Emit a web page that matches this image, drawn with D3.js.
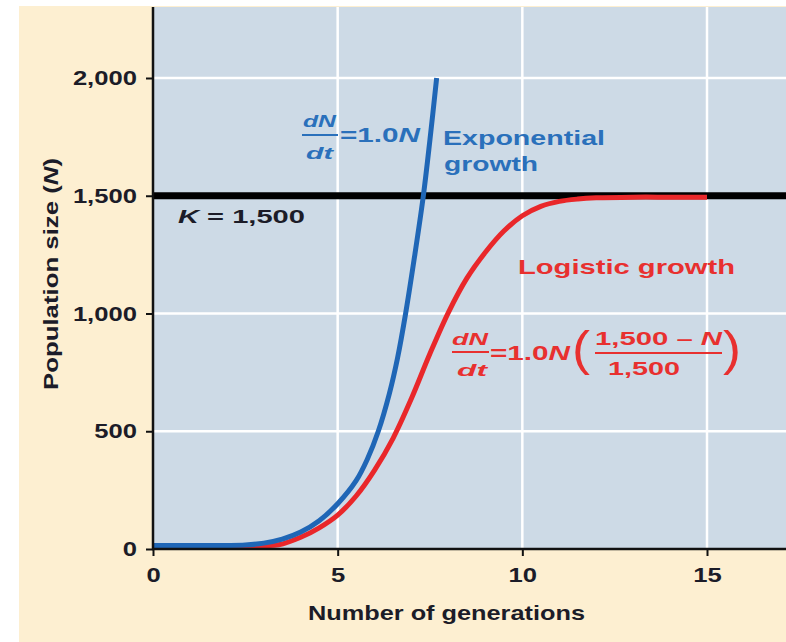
<!DOCTYPE html>
<html><head><meta charset="utf-8">
<script src="https://cdn.jsdelivr.net/npm/d3@7"></script>
<style>
body{margin:0;background:#ffffff}
svg{display:block}
text{font-family:"Liberation Sans",Arial,Helvetica,sans-serif;font-weight:bold}
</style>
</head><body>
<svg id="chart" width="786" height="642"></svg>
<script>
// ---- data ----
const xTicks = [0, 5, 10, 15];
const yTicks = [0, 500, 1000, 1500, 2000];
const yTickLabels = ["0", "500", "1,000", "1,500", "2,000"];
const carryingCapacity = 1500;
const expGen = [0, 1, 2, 2.5, 3, 3.5, 4, 4.5, 5, 5.5, 5.8, 6.1, 6.4, 6.62, 6.84, 7.08, 7.32, 7.5, 7.68];
const expN   = [15, 15, 15, 17, 25, 42, 72, 120, 192, 290, 380, 500, 660, 810, 1000, 1240, 1500, 1740, 2000];
const logGen = [0, 1, 2, 3, 3.4, 4, 4.5, 5, 5.5, 6, 6.5, 7, 7.5, 8, 8.5, 9, 9.5, 10, 10.5, 11, 11.5, 12, 13, 14, 15];
const logN   = [15, 15, 15, 15, 18, 50, 90, 144, 225, 335, 470, 640, 830, 1005, 1150, 1260, 1350, 1415, 1455, 1476, 1486, 1491, 1494, 1494, 1494];

// ---- layout ----
const svg = d3.select("#chart");
const W = 786, H = 642;
const plot = {left: 153, right: 786, top: 7, bottom: 549};
const BLUE = "#1f66b6", BLUE_T = "#2a70bb", RED = "#e9272a", RED_T = "#e8302f", DARK = "#1c1c28";

const x = d3.scaleLinear().domain([0, 15]).range([153, 707]);
const y = d3.scaleLinear().domain([0, 2000]).range([549, 78]);

// backgrounds
svg.append("rect").attr("x", 19).attr("y", 6).attr("width", W - 19).attr("height", H - 6).attr("fill", "#fdefd1");
svg.append("rect").attr("x", plot.left).attr("y", plot.top)
  .attr("width", plot.right - plot.left).attr("height", plot.bottom - plot.top).attr("fill", "#cddae6");

// grid
const grid = svg.append("g").attr("stroke", "#ffffff").attr("stroke-width", 2.5);
grid.selectAll(".gx").data(xTicks.filter(d => d > 0)).join("line")
  .attr("x1", d => x(d)).attr("x2", d => x(d)).attr("y1", plot.top).attr("y2", plot.bottom);
grid.selectAll(".gy").data(yTicks.filter(d => d > 0)).join("line")
  .attr("x1", plot.left).attr("x2", plot.right).attr("y1", d => y(d)).attr("y2", d => y(d));

// carrying capacity line
svg.append("line").attr("x1", plot.left).attr("x2", plot.right)
  .attr("y1", y(carryingCapacity)).attr("y2", y(carryingCapacity))
  .attr("stroke", "#000").attr("stroke-width", 7);

// curves
const line = d3.line().curve(d3.curveCatmullRom.alpha(0.5));
svg.append("path").attr("d", line(logGen.map((g, i) => [x(g), y(logN[i])])))
  .attr("fill", "none").attr("stroke", RED).attr("stroke-width", 5).attr("stroke-linecap", "butt");
svg.append("path").attr("d", line(expGen.map((g, i) => [x(g), y(expN[i])])))
  .attr("fill", "none").attr("stroke", BLUE).attr("stroke-width", 5).attr("stroke-linecap", "butt");

// axes
const yAxis = svg.append("g").attr("transform", `translate(${plot.left},0)`)
  .call(d3.axisLeft(y).tickValues(yTicks).tickFormat((d, i) => yTickLabels[i]).tickSize(7).tickPadding(9).tickSizeOuter(0));
const xAxis = svg.append("g").attr("transform", `translate(0,${plot.bottom})`)
  .call(d3.axisBottom(x).tickValues(xTicks).tickFormat(d3.format("d")).tickSize(7).tickPadding(11).tickSizeOuter(0));
[yAxis, xAxis].forEach(a => {
  a.select(".domain").remove();
  a.selectAll(".tick line").attr("stroke", "#111").attr("stroke-width", 2);
  a.selectAll(".tick text").attr("fill", DARK).style("font-size", "21px")
    .style("font-family", '"Liberation Sans",Arial,sans-serif').style("font-weight", "bold");
});
function stretch(sel, k) {
  sel.each(function () {
    const w = this.getComputedTextLength();
    this.setAttribute("textLength", w * k);
    this.setAttribute("lengthAdjust", "spacingAndGlyphs");
  });
}
stretch(yAxis.selectAll(".tick text"), 1.22);
stretch(xAxis.selectAll(".tick text"), 1.22);

svg.append("line").attr("x1", plot.left).attr("x2", plot.left).attr("y1", plot.top).attr("y2", plot.bottom + 1)
  .attr("stroke", "#111").attr("stroke-width", 2.5);
svg.append("line").attr("x1", plot.left - 1).attr("x2", plot.right).attr("y1", plot.bottom).attr("y2", plot.bottom)
  .attr("stroke", "#111").attr("stroke-width", 2.5);

// text helper
function txt(xp, yp, size, color, parts, len, extra) {
  const t = svg.append("text").attr("x", xp).attr("y", yp).attr("fill", color).style("font-size", size + "px");
  parts.forEach(p => {
    const s = t.append("tspan").text(p[0]);
    if (p[1]) s.style("font-style", "italic");
  });
  if (len) t.attr("textLength", len).attr("lengthAdjust", "spacingAndGlyphs");
  if (extra) extra(t);
  return t;
}

// axis titles
txt(308, 620, 21, DARK, [["Number of generations"]], 277);
txt(0, 0, 21, DARK, [["Population size ("], ["N", true], [")"]], 232,
  t => t.attr("transform", "translate(58,390) rotate(-90)"));

// K label
txt(178, 223, 19, DARK, [["K", true], [" = 1,500"]], 127);

// exponential annotation
txt(303, 127, 17, BLUE_T, [["dN", true]], 33);
svg.append("line").attr("x1", 302).attr("x2", 338).attr("y1", 135).attr("y2", 135).attr("stroke", BLUE_T).attr("stroke-width", 2);
txt(306, 159, 17, BLUE_T, [["dt", true]], 27);
txt(340, 142, 20, BLUE_T, [["=1.0"], ["N", true]], 80);
txt(443, 145, 21, BLUE_T, [["Exponential"]], 162);
txt(444, 171, 21, BLUE_T, [["growth"]], 94);

// logistic annotation
txt(518, 274, 21, RED_T, [["Logistic growth"]], 217);
txt(452, 345, 17, RED_T, [["dN", true]], 36);
svg.append("line").attr("x1", 452).attr("x2", 489).attr("y1", 352).attr("y2", 352).attr("stroke", RED_T).attr("stroke-width", 2);
txt(457, 376, 17, RED_T, [["dt", true]], 30);
txt(490, 360, 20, RED_T, [["=1.0"], ["N", true]], 80);
txt(572, 365, 48, RED_T, [["("]], 18, t => t.style("font-weight", "normal"));
txt(595, 345, 18, RED_T, [["1,500 – "], ["N", true]], 127);
svg.append("line").attr("x1", 595).attr("x2", 722).attr("y1", 353).attr("y2", 353).attr("stroke", RED_T).attr("stroke-width", 2);
txt(608, 375, 18, RED_T, [["1,500"]], 72);
txt(723, 365, 48, RED_T, [[")"]], 18, t => t.style("font-weight", "normal"));
</script>
</body></html>
